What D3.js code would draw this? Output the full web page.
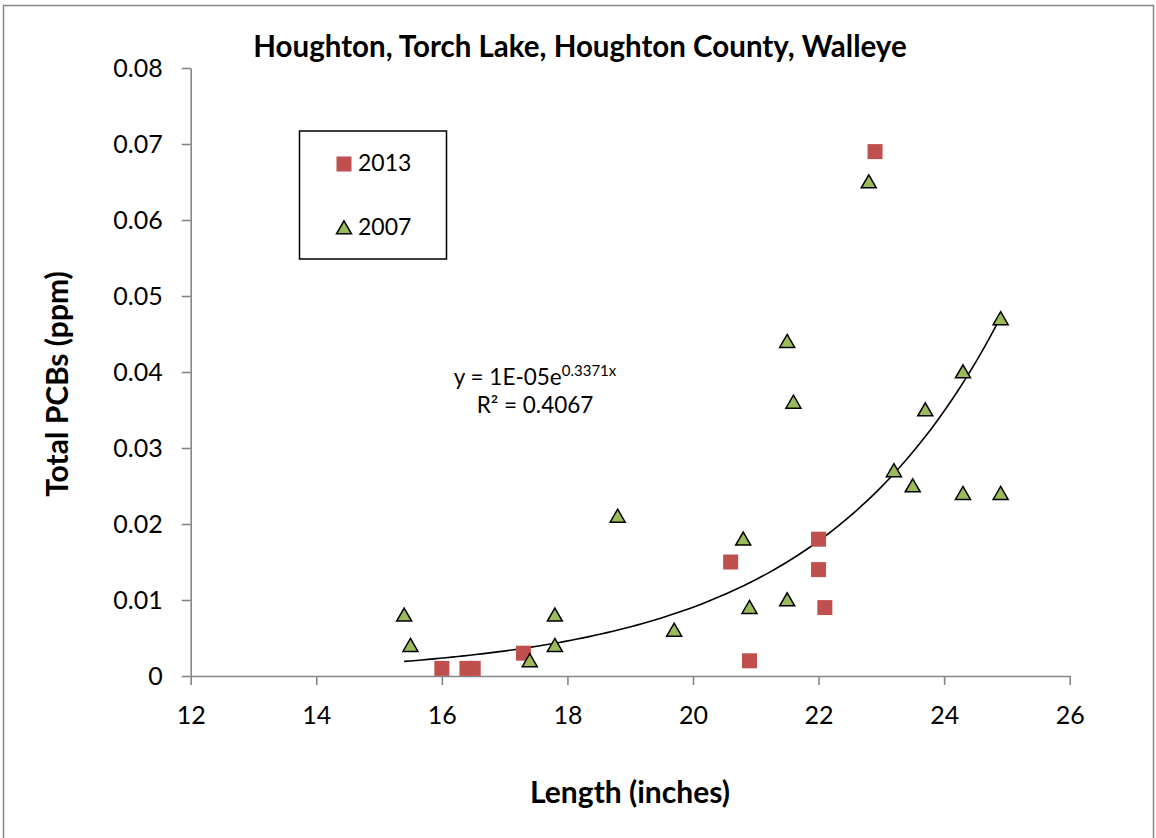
<!DOCTYPE html>
<html><head><meta charset="utf-8">
<script src="https://cdn.jsdelivr.net/npm/d3@7"></script>
<style>
body{margin:0;background:#fff}
svg{display:block}
text{font-family:Lato,"Open Sans",sans-serif;fill:#000}
</style>
</head><body>
<svg id="c" width="1156" height="838"></svg>
<script>
// ---- data ----
const title = "Houghton, Torch Lake, Houghton County, Walleye";
const xLabel = "Length (inches)";
const yLabel = "Total PCBs (ppm)";
const seriesNames = ["2013", "2007"];
const len2013 = [16.0, 16.4, 16.5, 17.3, 20.6, 20.9, 22.0, 22.0, 22.1, 22.9];
const pcb2013 = [0.001, 0.001, 0.001, 0.003, 0.015, 0.002, 0.018, 0.014, 0.009, 0.069];
const len2007 = [15.4, 15.5, 17.4, 17.8, 17.8, 18.8, 19.7, 20.8, 20.9, 21.5, 21.5, 21.6, 22.8, 23.2, 23.5, 23.7, 24.3, 24.3, 24.9, 24.9];
const pcb2007 = [0.008, 0.004, 0.002, 0.008, 0.004, 0.021, 0.006, 0.018, 0.009, 0.010, 0.044, 0.036, 0.065, 0.027, 0.025, 0.035, 0.040, 0.024, 0.047, 0.024];
const xTicks = [12, 14, 16, 18, 20, 22, 24, 26];
const yTicks = [0, 0.01, 0.02, 0.03, 0.04, 0.05, 0.06, 0.07, 0.08];
const yTickLabels = ["0", "0.01", "0.02", "0.03", "0.04", "0.05", "0.06", "0.07", "0.08"];
const eqMain = "y = 1E-05e";
const eqExp = "0.3371x";
const r2Text = "R\u00B2 = 0.4067";

// ---- layout ----
const svg = d3.select("#c");
const x = d3.scaleLinear().domain([12, 26]).range([190.7, 1069.7]);
const y = d3.scaleLinear().domain([0, 0.08]).range([676, 68]);
const axisColor = "#868686";
const red = "#C0504D", green = "#9BBB59";

// outer frame
svg.append("rect").attr("x", 3.5).attr("y", 5.5).attr("width", 1150).attr("height", 845)
  .attr("fill", "none").attr("stroke", axisColor).attr("stroke-width", 1.5);

// axes
const gx = svg.append("g").attr("transform", `translate(0,${y(0)})`)
  .call(d3.axisBottom(x).tickValues(xTicks).tickSize(9).tickSizeOuter(0).tickPadding(21).tickFormat(d3.format("d")));
const gy = svg.append("g").attr("transform", `translate(${x(12)},0)`)
  .call(d3.axisLeft(y).tickValues(yTicks).tickSize(9).tickSizeOuter(0).tickPadding(19).tickFormat((d, i) => yTickLabels[i]));
[gx, gy].forEach(g => {
  g.selectAll("path,line").attr("stroke", axisColor).attr("stroke-width", 1.6);
  g.selectAll("text").attr("font-size", 25).attr("fill", "#000").style("font-family", "Lato, 'Open Sans', sans-serif");
});
gy.selectAll("text").attr("dy", "0.35em");

// title & axis labels
svg.append("text").attr("x", 580).attr("y", 57).attr("text-anchor", "middle")
  .attr("font-size", 29.5).attr("font-weight", "bold").text(title);
svg.append("text").attr("x", 630).attr("y", 803).attr("text-anchor", "middle")
  .attr("font-size", 30).attr("font-weight", "bold").text(xLabel);
svg.append("text").attr("transform", "translate(68,384) rotate(-90)").attr("text-anchor", "middle")
  .attr("font-size", 30).attr("font-weight", "bold").text(yLabel);

// trend line (exponential least-squares fit on all plotted points)
const allX = len2013.concat(len2007);
const allY = pcb2013.concat(pcb2007);
const lnY = allY.map(Math.log);
const n = allX.length;
const mx = d3.mean(allX), my = d3.mean(lnY);
let sxy = 0, sxx = 0;
for (let i = 0; i < n; i++) { sxy += (allX[i] - mx) * (lnY[i] - my); sxx += (allX[i] - mx) ** 2; }
const b = sxy / sxx, a = Math.exp(my - b * mx);
const x0 = d3.min(allX), x1 = d3.max(allX);
const xs = d3.range(0, 101).map(i => x0 + (x1 - x0) * i / 100);
svg.append("path").datum(xs)
  .attr("d", d3.line().x(d => x(d)).y(d => y(a * Math.exp(b * d))))
  .attr("fill", "none").attr("stroke", "#000").attr("stroke-width", 1.6);

// markers
const sq = 15;
const tri = d3.symbol().type(d3.symbolTriangle).size(Math.sqrt(3) / 4 * 15 * 15);
svg.append("g").selectAll("rect").data(d3.range(len2013.length)).join("rect")
  .attr("x", i => x(len2013[i]) - sq / 2).attr("y", i => y(pcb2013[i]) - sq / 2)
  .attr("width", sq).attr("height", sq).attr("fill", red);
svg.append("g").selectAll("path").data(d3.range(len2007.length)).join("path")
  .attr("transform", i => `translate(${x(len2007[i])},${y(pcb2007[i]) + 1.5})`)
  .attr("d", tri).attr("fill", green).attr("stroke", "#000").attr("stroke-width", 1.5);

// legend
const lg = svg.append("g");
lg.append("rect").attr("x", 299.5).attr("y", 131).attr("width", 147).attr("height", 128)
  .attr("fill", "#fff").attr("stroke", "#000").attr("stroke-width", 1.5);
lg.append("rect").attr("x", 344 - sq / 2).attr("y", 164 - sq / 2).attr("width", sq).attr("height", sq).attr("fill", red);
lg.append("path").attr("transform", "translate(344,229.5)").attr("d", tri)
  .attr("fill", green).attr("stroke", "#000").attr("stroke-width", 1.5);
lg.append("text").attr("x", 358).attr("y", 171).attr("font-size", 23).text(seriesNames[0]);
lg.append("text").attr("x", 358).attr("y", 235).attr("font-size", 23).text(seriesNames[1]);

// equation
const eq = svg.append("text").attr("x", 535).attr("y", 385).attr("text-anchor", "middle").attr("font-size", 22.5);
eq.append("tspan").text(eqMain);
eq.append("tspan").attr("font-size", 15).attr("dy", -9).text(eqExp);
svg.append("text").attr("x", 535).attr("y", 413).attr("text-anchor", "middle").attr("font-size", 22.5).text(r2Text);
</script>
</body></html>
